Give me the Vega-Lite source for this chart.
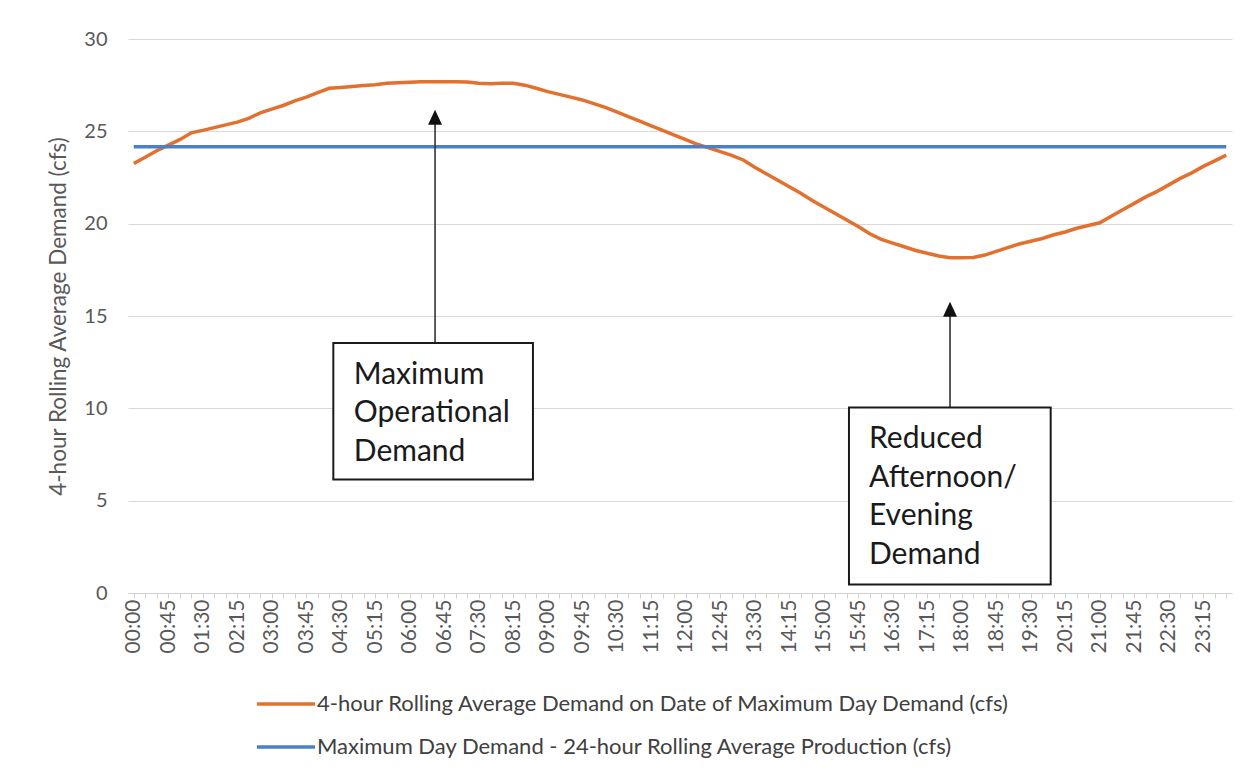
{
  "$schema": "https://vega.github.io/schema/vega-lite/v6.json",
  "width": 1104,
  "height": 554,
  "autosize": {"type": "none"},
  "padding": {"left": 128, "top": 39, "right": 19, "bottom": 186},
  "background": "white",
  "config": {"view": {"stroke": null}, "font": "Lato"},
  "datasets": {
    "demand": [
      {"m":0,"d":23.26,"b":24.16},{"m":15,"d":23.6,"b":24.16},{"m":30,"d":23.95,"b":24.16},{"m":45,"d":24.25,"b":24.16},
      {"m":60,"d":24.55,"b":24.16},{"m":75,"d":24.92,"b":24.16},{"m":90,"d":25.05,"b":24.16},{"m":105,"d":25.2,"b":24.16},
      {"m":120,"d":25.35,"b":24.16},{"m":135,"d":25.5,"b":24.16},{"m":150,"d":25.7,"b":24.16},{"m":165,"d":26.0,"b":24.16},
      {"m":180,"d":26.2,"b":24.16},{"m":195,"d":26.4,"b":24.16},{"m":210,"d":26.65,"b":24.16},{"m":225,"d":26.85,"b":24.16},
      {"m":240,"d":27.1,"b":24.16},{"m":255,"d":27.33,"b":24.16},{"m":270,"d":27.38,"b":24.16},{"m":285,"d":27.43,"b":24.16},
      {"m":300,"d":27.48,"b":24.16},{"m":315,"d":27.52,"b":24.16},{"m":330,"d":27.6,"b":24.16},{"m":345,"d":27.63,"b":24.16},
      {"m":360,"d":27.66,"b":24.16},{"m":375,"d":27.68,"b":24.16},{"m":390,"d":27.69,"b":24.16},{"m":405,"d":27.69,"b":24.16},
      {"m":420,"d":27.69,"b":24.16},{"m":435,"d":27.67,"b":24.16},{"m":450,"d":27.6,"b":24.16},{"m":465,"d":27.58,"b":24.16},
      {"m":480,"d":27.6,"b":24.16},{"m":495,"d":27.6,"b":24.16},{"m":510,"d":27.5,"b":24.16},{"m":525,"d":27.33,"b":24.16},
      {"m":540,"d":27.15,"b":24.16},{"m":555,"d":27.0,"b":24.16},{"m":570,"d":26.85,"b":24.16},{"m":585,"d":26.7,"b":24.16},
      {"m":600,"d":26.5,"b":24.16},{"m":615,"d":26.3,"b":24.16},{"m":630,"d":26.05,"b":24.16},{"m":645,"d":25.8,"b":24.16},
      {"m":660,"d":25.55,"b":24.16},{"m":675,"d":25.3,"b":24.16},{"m":690,"d":25.05,"b":24.16},{"m":705,"d":24.8,"b":24.16},
      {"m":720,"d":24.55,"b":24.16},{"m":735,"d":24.3,"b":24.16},{"m":750,"d":24.1,"b":24.16},{"m":765,"d":23.9,"b":24.16},
      {"m":780,"d":23.7,"b":24.16},{"m":795,"d":23.45,"b":24.16},{"m":810,"d":23.05,"b":24.16},{"m":825,"d":22.7,"b":24.16},
      {"m":840,"d":22.35,"b":24.16},{"m":855,"d":22.0,"b":24.16},{"m":870,"d":21.65,"b":24.16},{"m":885,"d":21.25,"b":24.16},
      {"m":900,"d":20.9,"b":24.16},{"m":915,"d":20.55,"b":24.16},{"m":930,"d":20.2,"b":24.16},{"m":945,"d":19.85,"b":24.16},
      {"m":960,"d":19.45,"b":24.16},{"m":975,"d":19.15,"b":24.16},{"m":990,"d":18.95,"b":24.16},{"m":1005,"d":18.75,"b":24.16},
      {"m":1020,"d":18.55,"b":24.16},{"m":1035,"d":18.4,"b":24.16},{"m":1050,"d":18.25,"b":24.16},{"m":1065,"d":18.15,"b":24.16},
      {"m":1080,"d":18.15,"b":24.16},{"m":1095,"d":18.17,"b":24.16},{"m":1110,"d":18.3,"b":24.16},{"m":1125,"d":18.5,"b":24.16},
      {"m":1140,"d":18.7,"b":24.16},{"m":1155,"d":18.9,"b":24.16},{"m":1170,"d":19.05,"b":24.16},{"m":1185,"d":19.2,"b":24.16},
      {"m":1200,"d":19.4,"b":24.16},{"m":1215,"d":19.55,"b":24.16},{"m":1230,"d":19.75,"b":24.16},{"m":1245,"d":19.9,"b":24.16},
      {"m":1260,"d":20.05,"b":24.16},{"m":1275,"d":20.4,"b":24.16},{"m":1290,"d":20.75,"b":24.16},{"m":1305,"d":21.1,"b":24.16},
      {"m":1320,"d":21.45,"b":24.16},{"m":1335,"d":21.75,"b":24.16},{"m":1350,"d":22.1,"b":24.16},{"m":1365,"d":22.45,"b":24.16},
      {"m":1380,"d":22.75,"b":24.16},{"m":1395,"d":23.1,"b":24.16},{"m":1410,"d":23.4,"b":24.16},{"m":1425,"d":23.71,"b":24.16}
    ],
    "boxes": [
      {"x1":260.3,"x2":520.7,"y1":13.54,"y2":6.15,"ax":393,"tip":25.76,"tx":287,"ty":11.34,"label":"Maximum\nOperational\nDemand"},
      {"x1":932.9,"x2":1196,"y1":10.05,"y2":0.46,"ax":1064.7,"tip":15.36,"tx":959,"ty":7.83,"label":"Reduced\nAfternoon/\nEvening\nDemand"}
    ]
  },
  "resolve": {"axis": {"x": "independent"}},
  "layer": [
    {
      "data": {"name": "demand"},
      "mark": {"type": "line", "strokeWidth": 3.5, "interpolate": "linear"},
      "encoding": {
        "x": {
          "field": "m", "type": "quantitative",
          "scale": {"domain": [-7.5, 1432.5], "nice": false, "zero": false},
          "axis": {
            "title": null, "grid": false, "orient": "bottom",
            "values": [0,45,90,135,180,225,270,315,360,405,450,495,540,585,630,675,720,765,810,855,900,945,990,1035,1080,1125,1170,1215,1260,1305,1350,1395],
            "labelExpr": "(floor(datum.value/60) < 10 ? '0' : '') + floor(datum.value/60) + ':' + (datum.value % 60 < 10 ? '0' : '') + (datum.value % 60)",
            "labelAngle": -90, "labelOverlap": false, "labelBound": false, "labelFlush": false,
            "labelFont": "Lato", "labelFontSize": 21, "labelColor": "#595959", "labelPadding": 6,
            "domainColor": "#d0d0d0", "ticks": false
          }
        },
        "y": {
          "field": "d", "type": "quantitative",
          "scale": {"domain": [0, 30], "nice": false},
          "axis": {
            "title": "4-hour Rolling Average Demand (cfs)", "values": [0,5,10,15,20,25,30],
            "grid": true, "gridColor": "#d9d9d9", "domain": false, "ticks": false,
            "labelFont": "Lato", "labelFontSize": 20, "labelColor": "#595959", "labelPadding": 21,
            "titleFont": "Lato", "titleFontSize": 22.5, "titleFontWeight": "normal", "titleColor": "#595959", "titlePadding": 13
          }
        },
        "color": {
          "datum": "4-hour Rolling Average Demand on Date of Maximum Day Demand (cfs)",
          "scale": {
            "domain": ["4-hour Rolling Average Demand on Date of Maximum Day Demand (cfs)", "Maximum Day Demand - 24-hour Rolling Average Production (cfs)"],
            "range": ["#E2702E", "#4A80C8"]
          },
          "legend": {
            "title": null, "orient": "none", "legendX": 127, "legendY": 654, "direction": "vertical",
            "symbolType": "stroke", "symbolSize": 3364, "symbolStrokeWidth": 3.5,
            "labelFont": "Lato", "labelFontSize": 22, "labelColor": "#404040", "labelLimit": 0,
            "labelOffset": 0, "rowPadding": 21, "clipHeight": 22, "padding": 0
          }
        }
      }
    },
    {
      "data": {"name": "demand"},
      "mark": {"type": "line", "strokeWidth": 3.5},
      "encoding": {
        "x": {
          "field": "m", "type": "quantitative",
          "axis": {
            "title": null, "grid": false, "orient": "bottom", "labels": false, "domain": false,
            "values": [0,15,30,45,60,75,90,105,120,135,150,165,180,195,210,225,240,255,270,285,300,315,330,345,360,375,390,405,420,435,450,465,480,495,510,525,540,555,570,585,600,615,630,645,660,675,690,705,720,735,750,765,780,795,810,825,840,855,870,885,900,915,930,945,960,975,990,1005,1020,1035,1050,1065,1080,1095,1110,1125,1140,1155,1170,1185,1200,1215,1230,1245,1260,1275,1290,1305,1320,1335,1350,1365,1380,1395,1410,1425],
            "tickColor": "#d0d0d0", "tickSize": 5
          }
        },
        "y": {"field": "b", "type": "quantitative"},
        "color": {"datum": "Maximum Day Demand - 24-hour Rolling Average Production (cfs)"}
      }
    },
    {
      "data": {"name": "boxes"},
      "mark": {"type": "rule", "color": "#333333", "strokeWidth": 1.6},
      "encoding": {
        "x": {"field": "ax", "type": "quantitative", "axis": null},
        "y": {"field": "y1", "type": "quantitative"},
        "y2": {"field": "tip"}
      }
    },
    {
      "data": {"name": "boxes"},
      "mark": {"type": "point", "shape": "M0,-1L0.93,1L-0.93,1Z", "size": 225, "filled": true, "color": "#111111", "opacity": 1},
      "encoding": {
        "x": {"field": "ax", "type": "quantitative", "axis": null},
        "y": {"field": "tip", "type": "quantitative"}
      }
    },
    {
      "data": {"name": "boxes"},
      "mark": {"type": "rect", "fill": "white", "stroke": "#1a1a1a", "strokeWidth": 2},
      "encoding": {
        "x": {"field": "x1", "type": "quantitative", "axis": null},
        "x2": {"field": "x2"},
        "y": {"field": "y1", "type": "quantitative"},
        "y2": {"field": "y2"}
      }
    },
    {
      "data": {"name": "boxes"},
      "mark": {"type": "text", "align": "left", "baseline": "alphabetic", "font": "Lato", "fontSize": 30, "lineBreak": "\n", "lineHeight": 38.5, "color": "#1a1a1a"},
      "encoding": {
        "x": {"field": "tx", "type": "quantitative", "axis": null},
        "y": {"field": "ty", "type": "quantitative"},
        "text": {"field": "label"}
      }
    }
  ]
}
